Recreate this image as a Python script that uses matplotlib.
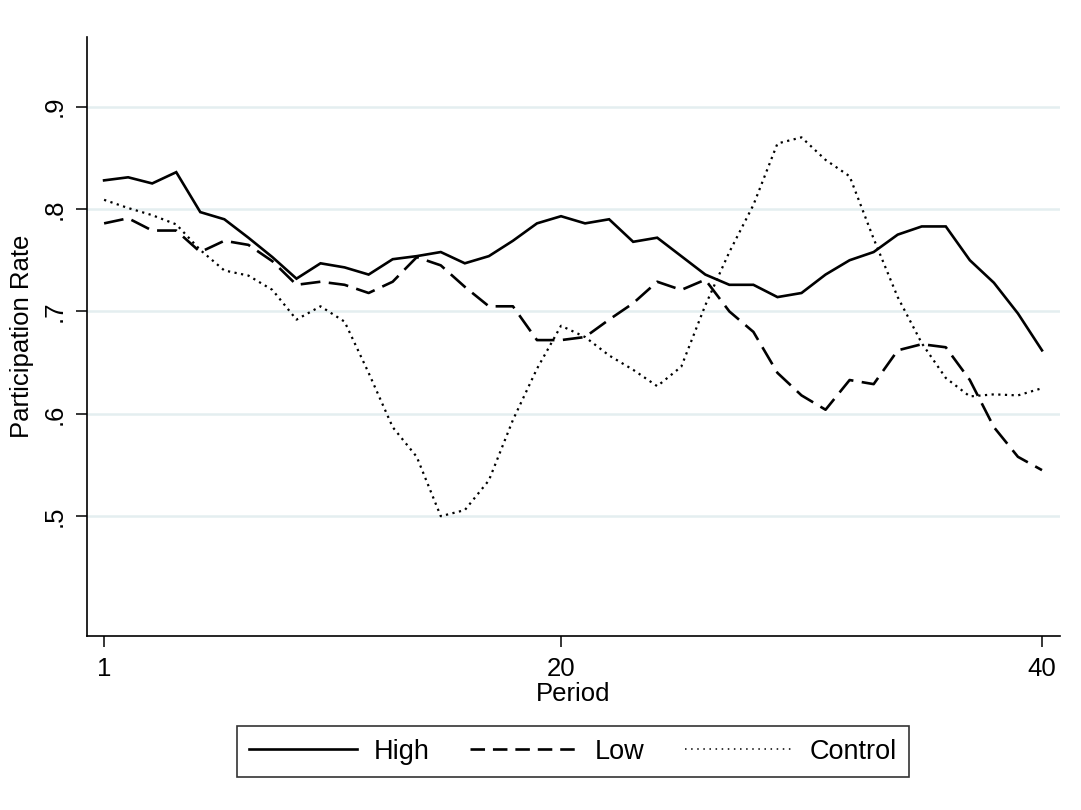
import matplotlib
matplotlib.use("Agg")
import matplotlib.pyplot as plt
from matplotlib.lines import Line2D

plt.rcParams['font.family'] = ['Liberation Sans', 'DejaVu Sans']

# participation rates by period
periods = list(range(1, 41))
high = [.828, .831, .825, .836, .797, .790, .772, .753, .732, .747,
        .743, .736, .751, .754, .758, .747, .754, .769, .786, .793,
        .786, .790, .768, .772, .754, .736, .726, .726, .714, .718,
        .736, .750, .758, .775, .783, .783, .750, .728, .698, .662]
low = [.786, .791, .779, .779, .758, .769, .765, .749, .726, .729,
       .726, .718, .729, .753, .745, .724, .705, .705, .672, .672,
       .675, .692, .708, .729, .721, .731, .700, .680, .640, .618,
       .604, .633, .629, .662, .668, .665, .633, .587, .558, .545]
control = [.809, .801, .794, .785, .760, .740, .735, .721, .692, .705,
           .690, .640, .587, .558, .500, .506, .535, .594, .644, .686,
           .675, .657, .643, .627, .646, .706, .758, .804, .864, .870,
           .848, .832, .771, .714, .669, .635, .617, .619, .618, .625]

series_names = ['High', 'Low', 'Control']
yticks = [.5, .6, .7, .8, .9]
ytick_labels = ['.5', '.6', '.7', '.8', '.9']
xticks = [1, 20, 40]

fig = plt.figure(figsize=(10.81, 8.10), dpi=100)
ax = fig.add_axes([0.0805, 0.2148, 0.9001, 0.7395])

ax.plot(periods, high, color='black', lw=1.9, solid_joinstyle='miter')
ax.plot(periods, low, color='black', lw=1.9, linestyle=(0, (7.5, 3.2)))
ax.plot(periods, control, color='black', lw=1.6, linestyle=(0, (1, 2)))

ax.set_xlim(0.29, 40.75)
ax.set_ylim(0.383, 0.968)

ax.set_yticks(yticks)
ax.set_yticklabels(ytick_labels, rotation=90, va='center')
ax.set_xticks(xticks)
ax.set_xticklabels([str(t) for t in xticks])

ax.yaxis.grid(True, color='#e4eef0', lw=1.8)
ax.set_axisbelow(True)

for side in ['top', 'right']:
    ax.spines[side].set_visible(False)
for side in ['left', 'bottom']:
    ax.spines[side].set_linewidth(1.2)

ax.tick_params(axis='both', direction='out', length=8, width=1.1, labelsize=18.5, pad=7)

ax.set_xlabel('Period', fontsize=18.5, labelpad=1)
ax.set_ylabel('Participation Rate', fontsize=18.5, labelpad=6)

# legend keys drawn a little finer than the plotted lines, as in the original
handles = [Line2D([], [], color='black', lw=1.9),
           Line2D([], [], color='black', lw=1.9, linestyle=(0, (5.5, 3))),
           Line2D([], [], color='black', lw=1.1, linestyle=(0, (1, 3)))]
leg = fig.legend(handles, series_names, loc='center', bbox_to_anchor=(0.530, 0.0722), ncol=3,
                 fontsize=19.5, frameon=True, fancybox=False, edgecolor='black',
                 handlelength=4.0, handletextpad=0.6, columnspacing=1.5, borderpad=0.45)
leg.get_frame().set_linewidth(1.2)

fig.savefig('out.png', dpi=100, facecolor='white')
